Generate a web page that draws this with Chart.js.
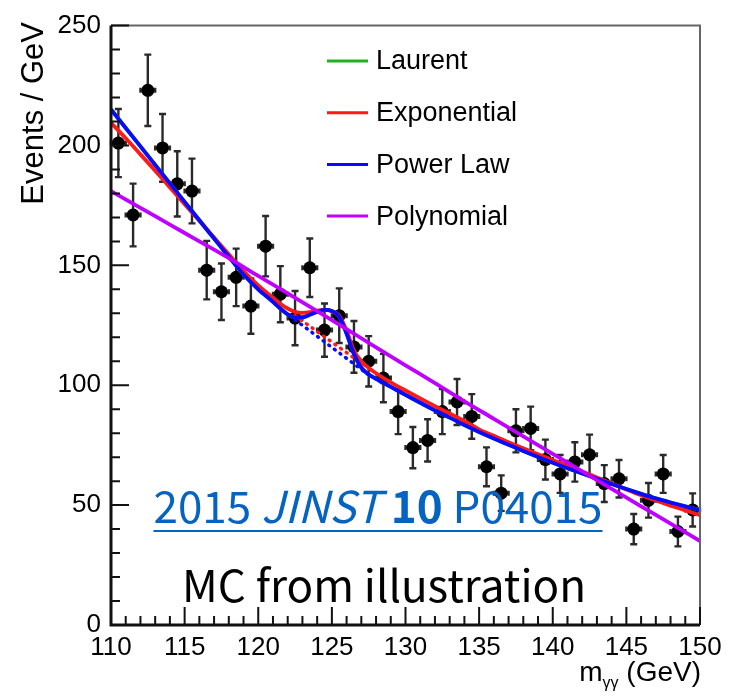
<!DOCTYPE html>
<html>
<head>
<meta charset="utf-8">
<script src="https://cdn.jsdelivr.net/npm/chart.js@4.4.1/dist/chart.umd.min.js"></script>
<style>
  html, body { margin: 0; padding: 0; background: #fff; }
  canvas { display: block; }
</style>
</head>
<body>
<canvas id="fitChart" width="731" height="698"></canvas>
<script>
// MC diphoton mass spectrum, 1 GeV bins
const massBins = [110.5, 111.5, 112.5, 113.5, 114.5, 115.5, 116.5, 117.5, 118.5, 119.5,
                  120.5, 121.5, 122.5, 123.5, 124.5, 125.5, 126.5, 127.5, 128.5, 129.5,
                  130.5, 131.5, 132.5, 133.5, 134.5, 135.5, 136.5, 137.5, 138.5, 139.5,
                  140.5, 141.5, 142.5, 143.5, 144.5, 145.5, 146.5, 147.5, 148.5, 149.5];
const events = [201, 171, 223, 199, 184, 181, 148, 139, 145, 133,
                158, 138, 128, 149, 123, 129, 116, 110, 103, 89,
                74, 77, 89, 93, 87, 66, 55, 81, 82, 69,
                63, 68, 71, 59, 61, 40, 52, 63, 39, 48];
const errors = [14.2, 13.1, 14.9, 14.1, 13.6, 13.5, 12.2, 11.8, 12.0, 11.5,
                12.6, 11.7, 11.3, 12.2, 11.1, 11.4, 10.8, 10.5, 10.1, 9.4,
                8.6, 8.8, 9.4, 9.6, 9.3, 8.1, 7.4, 9.0, 9.1, 8.3,
                7.9, 8.2, 8.4, 7.7, 7.8, 6.3, 7.2, 7.9, 6.2, 6.9];

// signal + background fits
const fitMass = [110, 111, 112, 113, 114, 115, 116, 117, 118, 119, 120, 121,
                 121.5, 122, 122.5, 123, 123.5, 124, 124.5, 125, 125.5, 126, 126.5, 127, 127.5, 128,
                 129, 130, 131, 132, 133, 134, 135, 136, 137, 138, 139, 140,
                 141, 142, 143, 144, 145, 146, 147, 148, 149, 150];
const powerLawFit = [215, 207.3, 199.6, 191.9, 184.2, 176.5, 168.8, 161.2, 153.6, 146.2, 140, 134.8,
                     132, 129.6, 128.2, 128.3, 129.4, 130.7, 131.4, 131, 128.6, 121.5, 113, 107.3, 104.5, 102.7,
                     99.3, 96, 92.7, 89.5, 86.5, 83.4, 80.5, 77.8, 75.2, 72.6, 70.1, 67.7,
                     65.4, 63.2, 61, 58.8, 56.7, 54.7, 52.8, 51.1, 49.5, 48];
const expoFit = [209.5, 203, 196.3, 189.5, 182.5, 175.5, 168.6, 161.6, 154.6, 147.6, 141.6, 136.5,
                 134, 132, 130.6, 130.2, 130.5, 131.1, 131.4, 130.9, 129, 122.8, 114.5, 110, 107.2, 105,
                 101.2, 97.8, 94.5, 91.3, 88.2, 85.1, 81.6, 78.9, 76.2, 73.7, 71.2, 68.8,
                 66.4, 64, 61.5, 59, 56.5, 54.1, 51.9, 49.8, 47.8, 45.8];
const laurentFit = powerLawFit.slice();

const polyMass = [110, 112, 114, 116, 118, 120, 122, 124, 126, 128, 130,
                  132, 134, 136, 138, 140, 142, 144, 146, 148, 150];
const polyFit = [181, 174, 167, 160, 153, 145.6, 138.3, 130.9, 123.4, 115.8, 108.3,
                 100.9, 93.3, 86, 78.7, 71.4, 64.1, 56.8, 49.5, 42.3, 35];

// background-only under the peak (dotted)
const bgMass = [122.5, 123, 123.5, 124, 124.5, 125, 125.5, 126, 126.5, 127, 127.5];
const powerLawBg = [127.2, 125, 122.7, 120.4, 118.1, 115.8, 113.5, 111.2, 108.9, 106.6, 104.4];
const expoBg = [129, 126.8, 124.6, 122.4, 120.2, 118, 115.8, 113.6, 111.4, 109.3, 107.2];

const xTicks = [110, 115, 120, 125, 130, 135, 140, 145, 150];
const yTicks = [0, 50, 100, 150, 200, 250];

const GREEN = '#22b022', RED = '#ff1a1a', BLUE = '#0a0aff', MAGENTA = '#c000ff';
const axisFont = "'Liberation Sans', Arial, sans-serif";

function pts(xs, ys) {
    return xs.map((x, i) => ({ x: x, y: ys[i] }));
}

function curve(label, xs, ys, color, order, dashed) {
    return {
        type: 'line',
        label: label,
        data: pts(xs, ys),
        borderColor: color,
        borderWidth: dashed ? 3.5 : 3.8,
        borderDash: dashed ? [1, 6] : [],
        borderCapStyle: dashed ? 'round' : 'butt',
        pointRadius: 0,
        fill: false,
        cubicInterpolationMode: 'monotone',
        order: order,
        inLegend: !dashed
    };
}

// frame, inside ticks, error bars, legend and the text overlays
const decor = {
    id: 'decor',
    beforeDatasetsDraw(chart) {
        const ctx = chart.ctx, xs = chart.scales.x, ys = chart.scales.y;
        ctx.save();
        ctx.strokeStyle = '#2a2a2a';
        ctx.lineWidth = 2.4;
        massBins.forEach((m, i) => {
            const px = xs.getPixelForValue(m);
            const py = ys.getPixelForValue(events[i]);
            const top = ys.getPixelForValue(events[i] + errors[i]);
            const bot = ys.getPixelForValue(events[i] - errors[i]);
            const l = xs.getPixelForValue(m - 0.5), r = xs.getPixelForValue(m + 0.5);
            ctx.beginPath();
            ctx.moveTo(px, top); ctx.lineTo(px, bot);
            ctx.moveTo(px - 3.5, top); ctx.lineTo(px + 3.5, top);
            ctx.moveTo(px - 3.5, bot); ctx.lineTo(px + 3.5, bot);
            ctx.moveTo(l, py); ctx.lineTo(r, py);
            ctx.moveTo(l, py - 2.5); ctx.lineTo(l, py + 2.5);
            ctx.moveTo(r, py - 2.5); ctx.lineTo(r, py + 2.5);
            ctx.stroke();
        });
        ctx.restore();
    },
    afterDraw(chart) {
        const ctx = chart.ctx, a = chart.chartArea;
        const xs = chart.scales.x, ys = chart.scales.y;
        ctx.save();

        // frame
        ctx.strokeStyle = '#666';
        ctx.lineWidth = 2;
        ctx.beginPath();
        ctx.moveTo(a.left, a.top); ctx.lineTo(a.right, a.top); ctx.lineTo(a.right, a.bottom);
        ctx.stroke();
        ctx.strokeStyle = '#111';
        ctx.lineWidth = 3;
        ctx.beginPath();
        ctx.moveTo(a.left, a.top); ctx.lineTo(a.left, a.bottom); ctx.lineTo(a.right, a.bottom);
        ctx.stroke();

        // ticks pointing inwards
        ctx.lineWidth = 2;
        ctx.beginPath();
        for (let v = 0; v <= 250; v += 10) {
            const py = ys.getPixelForValue(v);
            ctx.moveTo(a.left, py);
            ctx.lineTo(a.left + (v % 50 === 0 ? 18 : 9), py);
        }
        for (let m = 110; m <= 150; m += 1) {
            const px = xs.getPixelForValue(m);
            ctx.moveTo(px, a.bottom);
            ctx.lineTo(px, a.bottom - (m % 5 === 0 ? 18 : 9));
        }
        ctx.stroke();

        // legend
        const items = chart.data.datasets.filter(d => d.inLegend);
        ctx.font = '27px ' + axisFont;
        ctx.textBaseline = 'middle';
        ctx.fillStyle = '#000';
        items.forEach((d, i) => {
            const y = 61 + i * 51.7;
            ctx.strokeStyle = d.borderColor;
            ctx.lineWidth = 3;
            ctx.beginPath();
            ctx.moveTo(327, y); ctx.lineTo(368, y);
            ctx.stroke();
            ctx.fillText(d.label, 376, y + 1);
        });

        // axis titles
        ctx.fillStyle = '#000';
        ctx.textBaseline = 'alphabetic';
        ctx.save();
        ctx.translate(43, 22);
        ctx.rotate(-Math.PI / 2);
        ctx.textAlign = 'right';
        ctx.font = '31px ' + axisFont;
        ctx.fillText('Events / GeV', 0, 0);
        ctx.restore();

        ctx.textAlign = 'left';
        ctx.font = '28px ' + axisFont;
        const tail = ' (GeV)';
        const wTail = ctx.measureText(tail).width;
        ctx.font = '16px ' + axisFont;
        const wSub = ctx.measureText('γγ').width;
        ctx.font = '28px ' + axisFont;
        const wM = ctx.measureText('m').width;
        let x0 = 701 - wTail - wSub - wM;
        ctx.fillText('m', x0, 681);
        ctx.font = '16px ' + axisFont;
        ctx.fillText('γγ', x0 + wM, 688);
        ctx.font = '28px ' + axisFont;
        ctx.fillText(tail, x0 + wM + wSub, 681);

        // reference and note
        const noteFont = "'Noto Sans CJK SC', 'Noto Sans', sans-serif";
        const parts = [
            ['2015 ', ''], ['JINST', 'italic '], [' ', ''], ['10', 'bold '], [' P04015', '']
        ];
        const size = 44;
        let total = 0;
        parts.forEach(p => {
            ctx.font = p[1] + size + 'px ' + noteFont;
            total += ctx.measureText(p[0]).width;
        });
        let tx = 378 - total / 2;
        const start = tx;
        ctx.fillStyle = '#0563c1';
        parts.forEach(p => {
            ctx.font = p[1] + size + 'px ' + noteFont;
            ctx.fillText(p[0], tx, 523);
            tx += ctx.measureText(p[0]).width;
        });
        ctx.strokeStyle = '#0563c1';
        ctx.lineWidth = 2;
        ctx.beginPath();
        ctx.moveTo(start, 531); ctx.lineTo(tx, 531);
        ctx.stroke();

        ctx.fillStyle = '#000';
        ctx.textAlign = 'center';
        ctx.font = size + 'px ' + noteFont;
        ctx.fillText('MC from illustration', 384, 602);

        ctx.restore();
    }
};

const datasets = [
    {
        type: 'scatter',
        label: 'MC',
        data: pts(massBins, events),
        pointRadius: 6.5,
        pointBackgroundColor: '#000',
        pointBorderWidth: 0,
        order: 10
    },
    curve('Laurent', fitMass, laurentFit, GREEN, 6, false),
    curve('Exponential', fitMass, expoFit, RED, 4, false),
    curve('Power Law', fitMass, powerLawFit, BLUE, 3, false),
    curve('Polynomial', polyMass, polyFit, MAGENTA, 1, false),
    curve('Exponential bkg', bgMass, expoBg, RED, 5, true),
    curve('Power Law bkg', bgMass, powerLawBg, BLUE, 5, true)
];

const config = {
    data: { datasets: datasets },
    options: {
        responsive: false,
        animation: false,
        layout: { padding: { top: 16, right: 31, left: 0, bottom: 0 } },
        plugins: {
            legend: { display: false },
            tooltip: { enabled: false }
        },
        scales: {
            x: {
                type: 'linear',
                min: 110,
                max: 150,
                afterBuildTicks: s => { s.ticks = xTicks.map(v => ({ value: v })); },
                ticks: { padding: 7, color: '#000', font: { family: axisFont, size: 26 }, maxRotation: 0, autoSkip: false },
                grid: { display: false, drawTicks: false },
                border: { display: false },
                afterFit: s => { s.height = 73; }
            },
            y: {
                type: 'linear',
                min: 0,
                max: 250,
                afterBuildTicks: s => { s.ticks = yTicks.map(v => ({ value: v })); },
                ticks: { padding: 10, color: '#000', font: { family: axisFont, size: 26 } },
                grid: { display: false, drawTicks: false },
                border: { display: false },
                afterFit: s => { s.width = 111; }
            }
        }
    },
    plugins: [decor]
};

window.onload = function() {
    const ctx = document.getElementById('fitChart').getContext('2d');
    new Chart(ctx, config);
};
</script>
</body>
</html>
